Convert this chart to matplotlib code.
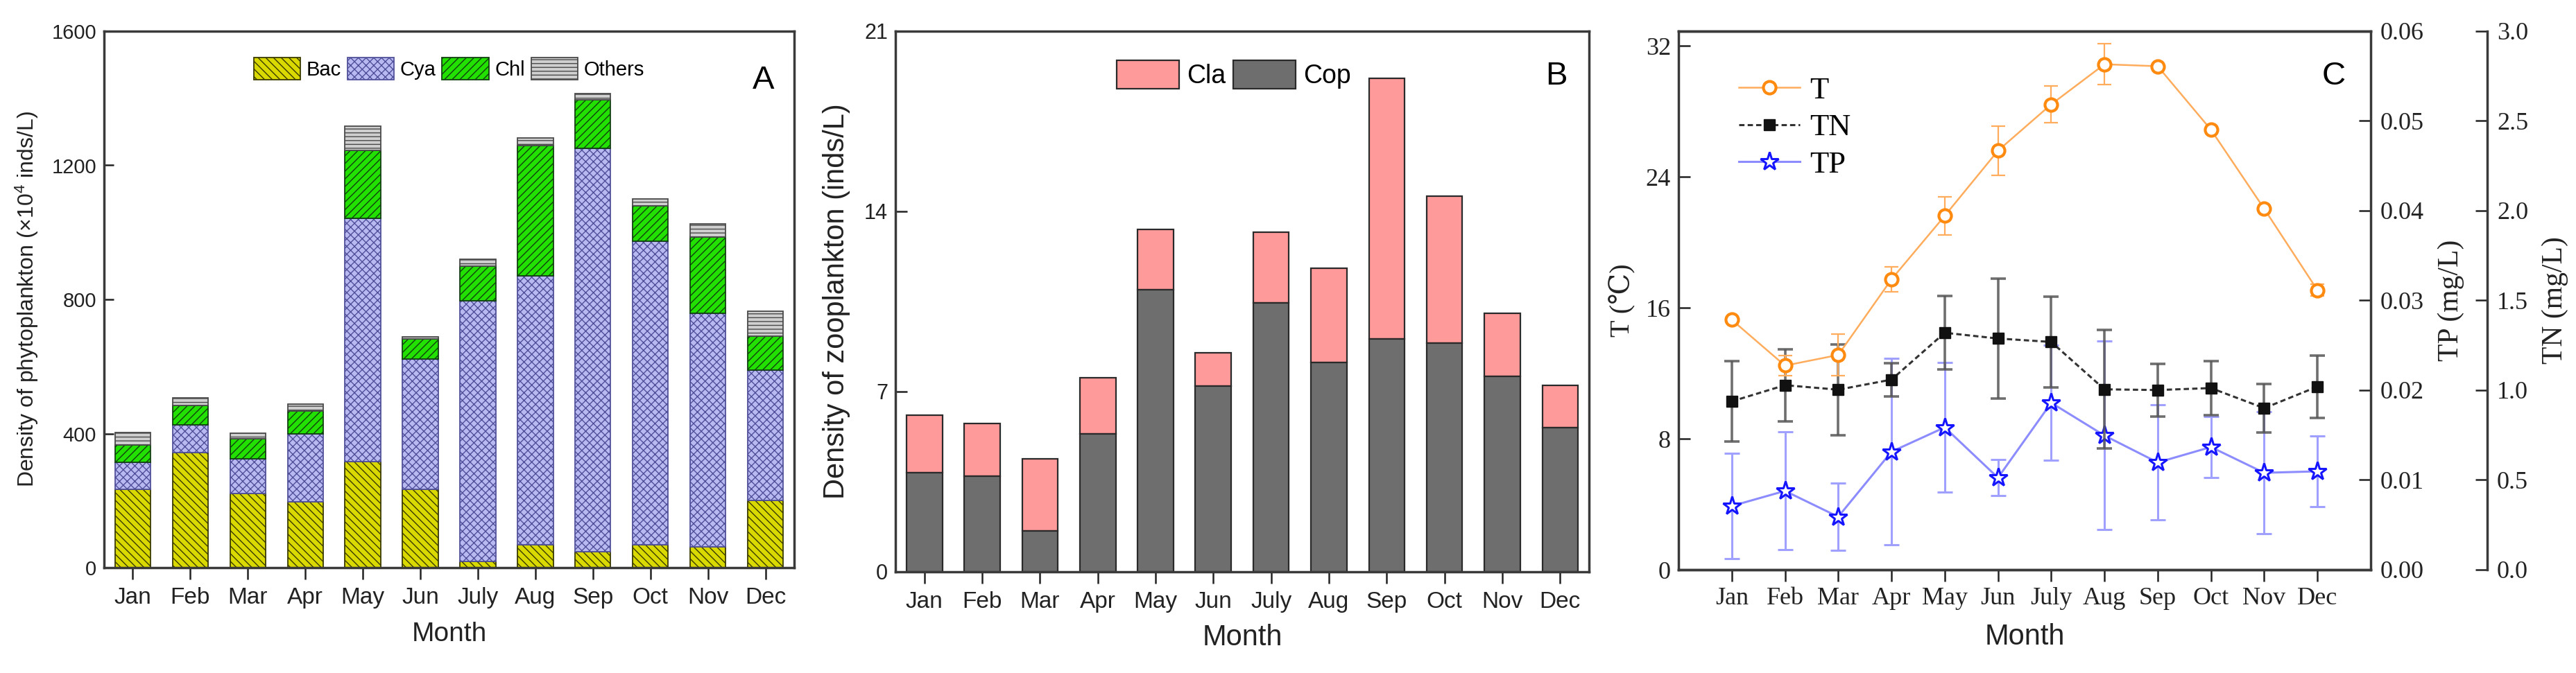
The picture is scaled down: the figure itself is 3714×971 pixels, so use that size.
import matplotlib
matplotlib.use('Agg')
import matplotlib.pyplot as plt
from matplotlib.lines import Line2D
from matplotlib.ticker import FormatStrFormatter, FixedLocator

# ---------------- data ----------------
months = ['Jan', 'Feb', 'Mar', 'Apr', 'May', 'Jun', 'July', 'Aug', 'Sep', 'Oct', 'Nov', 'Dec']

# Panel A: phytoplankton density (x10^4 inds/L), stacked components
bac = [234, 343, 221, 196, 317, 234, 19, 68, 47, 68, 63, 201]
cya = [80, 83, 103, 202, 724, 389, 776, 802, 1203, 906, 696, 388]
chl = [52, 58, 60, 69, 204, 59, 105, 388, 146, 105, 227, 102]
others = [37, 22, 17, 21, 71, 7, 20, 23, 18, 21, 39, 73]

# Panel B: zooplankton density (inds/L)
cop = [3.85, 3.72, 1.60, 5.35, 10.95, 7.22, 10.45, 8.12, 9.05, 8.88, 7.58, 5.60]
cla = [2.23, 2.03, 2.78, 2.20, 2.35, 1.30, 2.75, 3.68, 10.13, 5.70, 2.47, 1.65]

# Panel C: water temperature, TN, TP with error bars
temp = [15.27, 12.47, 13.12, 17.74, 21.62, 25.60, 28.43, 30.88, 30.76, 26.88, 22.05, 17.08]
temp_err = [0.15, 0.6, 1.27, 0.75, 1.17, 1.52, 1.13, 1.24, 0.1, 0.1, 0.1, 0.35]
tn = [0.938, 1.028, 1.003, 1.059, 1.32, 1.288, 1.269, 1.005, 1.001, 1.012, 0.90, 1.02]
tn_err = [0.223, 0.20, 0.253, 0.093, 0.204, 0.333, 0.254, 0.33, 0.147, 0.151, 0.134, 0.174]
tp = [0.0071, 0.00878, 0.0059, 0.01315, 0.01586, 0.01025, 0.0186, 0.01495, 0.01195, 0.01367, 0.0108, 0.01096]
tp_err = [0.0059, 0.00656, 0.00373, 0.0104, 0.0072, 0.0020, 0.0064, 0.0105, 0.0064, 0.00337, 0.0068, 0.00395]

a_yticks = [0, 400, 800, 1200, 1600]
b_yticks = [0, 7, 14, 21]
t_yticks = [0, 8, 16, 24, 32]
tp_yticks = [0.00, 0.01, 0.02, 0.03, 0.04, 0.05, 0.06]
tn_yticks = [0.0, 0.5, 1.0, 1.5, 2.0, 2.5, 3.0]

# ---------------- style ----------------
SANS = ['Liberation Sans Narrow', 'Liberation Sans', 'DejaVu Sans']
SERIF = ['Liberation Serif', 'DejaVu Serif', 'DejaVu Sans', 'Noto Sans CJK SC']
plt.rcParams['font.family'] = SANS
plt.rcParams['mathtext.fontset'] = 'custom'
plt.rcParams['mathtext.rm'] = 'Liberation Sans'
plt.rcParams['mathtext.it'] = 'Liberation Sans'
plt.rcParams['hatch.linewidth'] = 1.0
SPINE = '#3a3a3a'

W, H = 3714, 971
fig = plt.figure(figsize=(W / 100, H / 100), dpi=100)
fig.patch.set_facecolor('white')


def rect(l, r, t, b):
    return [l / W, 1 - b / H, (r - l) / W, (b - t) / H]


x = list(range(1, 13))

# ---------------- Panel A ----------------
axA = fig.add_axes(rect(150, 1145, 45, 819))
bw = 0.62
comps = [
    (bac, 'Bac', '#d9d900', '#3a3a00', '\\\\\\'),
    (cya, 'Cya', '#b9b9f2', '#50509a', 'xxx'),
    (chl, 'Chl', '#22e000', '#124012', '///'),
    (others, 'Others', '#cfcfcf', '#4a4a4a', '---'),
]
bottom = [0] * 12
for vals, lab, fc, hc, hatch in comps:
    axA.bar(x, vals, width=bw, bottom=bottom, color=fc, edgecolor=hc,
            hatch=hatch, linewidth=1.3, label=lab, zorder=2)
    bottom = [b + v for b, v in zip(bottom, vals)]
axA.set_xlim(0.5, 12.5)
axA.set_ylim(0, 1600)
axA.set_yticks(a_yticks)
axA.set_xticks(x)
axA.set_xticklabels(months)
axA.tick_params(axis='x', direction='out', length=12, width=1.8, labelsize=24, pad=8, colors='#222')
axA.tick_params(axis='y', direction='in', length=10, width=1.8, labelsize=21, pad=8, colors='#222')
for s in axA.spines.values():
    s.set_linewidth(2.5)
    s.set_color(SPINE)
axA.set_xlabel('Month', fontsize=28, labelpad=14, color='#222')
axA.set_ylabel('Density of phytoplankton (×10$^4$ inds/L)', fontsize=23, labelpad=12, color='#222')
legA = axA.legend(loc='center', bbox_to_anchor=(0.5, 0.93), ncol=4, frameon=False,
                  fontsize=21, handlelength=2.3, handleheight=1.3, handletextpad=0.3,
                  columnspacing=0.3)
axA.text(0.955, 0.908, 'A', transform=axA.transAxes, fontsize=34, ha='center', va='center',
         family=['Liberation Sans', 'DejaVu Sans'])

# ---------------- Panel B ----------------
axB = fig.add_axes(rect(1291, 2291, 45, 825))
axB.bar(x, cla, width=bw, bottom=cop, color='#ff9a9a', edgecolor='#2a2a2a', linewidth=1.6,
        label='Cla', zorder=2)
axB.bar(x, cop, width=bw, color='#6e6e6e', edgecolor='#2a2a2a', linewidth=1.6,
        label='Cop', zorder=2)
axB.set_xlim(0.5, 12.5)
axB.set_ylim(0, 21)
axB.set_yticks(b_yticks)
axB.set_xticks(x)
axB.set_xticklabels(months)
axB.tick_params(axis='x', direction='out', length=12, width=1.8, labelsize=24, pad=8, colors='#222')
axB.tick_params(axis='y', direction='in', length=12, width=1.8, labelsize=22, pad=8, colors='#222')
for s in axB.spines.values():
    s.set_linewidth(2.5)
    s.set_color(SPINE)
axB.set_xlabel('Month', fontsize=30, labelpad=12, color='#222')
axB.set_ylabel('Density of zooplankton (inds/L)', fontsize=30, labelpad=14, color='#222')
axB.legend(loc='center', bbox_to_anchor=(0.488, 0.92), ncol=2, frameon=False,
           fontsize=27, handlelength=2.4, handleheight=1.3, handletextpad=0.3, columnspacing=0.3)
axB.text(0.953, 0.917, 'B', transform=axB.transAxes, fontsize=34, ha='center', va='center',
         family=['Liberation Sans', 'DejaVu Sans'])

# ---------------- Panel C ----------------
axC = fig.add_axes(rect(2420, 3418, 45, 822))
axTP = axC.twinx()
axTN = axC.twinx()
axC.set_zorder(3)
axTN.set_zorder(2)
axTP.set_zorder(1)
axC.patch.set_visible(False)
axTN.patch.set_visible(False)

T_COL = '#ff8a10'
T_LINE = '#ffac5c'
TN_COL = '#111111'
TP_COL = '#1515ff'
TP_LINE = '#8c8cff'

axTP.errorbar(x, tp, yerr=tp_err, fmt='none', ecolor='#a0a0ff', elinewidth=2.2,
              capsize=8, capthick=2.2, zorder=1)
axTP.plot(x, tp, '-', color=TP_LINE, lw=2.2, marker='*', ms=20, mfc='white', mec=TP_COL,
          mew=2.2, zorder=3)

axTN.errorbar(x, tn, yerr=tn_err, fmt='none', ecolor='#555555', elinewidth=2.6,
              capsize=8, capthick=2.6, zorder=1, alpha=0.85)
axTN.plot(x, tn, color='#333333', lw=2.2, ls=(0, (2.5, 1.5)), marker='s', ms=11, mfc=TN_COL,
          mec=TN_COL, zorder=3)

axC.errorbar(x, temp, yerr=temp_err, fmt='none', ecolor=T_LINE, elinewidth=1.6,
             capsize=7, capthick=1.6, zorder=1)
axC.plot(x, temp, '-', color=T_LINE, lw=1.8, marker='o', ms=13, mfc='white', mec=T_COL,
         mew=3, zorder=3)

axC.set_xlim(0, 13)
axC.set_ylim(0, 32.9)
axC.set_yticks(t_yticks)
axC.set_xticks(x)
axC.set_xticklabels(months)
axTP.set_ylim(0, 0.06)
axTP.yaxis.set_major_locator(FixedLocator(tp_yticks))
axTP.yaxis.set_major_formatter(FormatStrFormatter('%.2f'))
axTN.set_ylim(0, 3.0)
axTN.yaxis.set_major_locator(FixedLocator(tn_yticks))
axTN.yaxis.set_major_formatter(FormatStrFormatter('%.1f'))
axTN.spines['right'].set_position(('axes', 1 + 168 / 998))
for k in ('left', 'top', 'bottom'):
    axTN.spines[k].set_visible(False)
axTP.spines['left'].set_visible(False)
axC.spines['right'].set_visible(False)
for a in (axC, axTP, axTN):
    for s in a.spines.values():
        s.set_linewidth(2.5)
        s.set_color(SPINE)

axC.tick_params(axis='x', direction='out', length=12, width=1.8, pad=6, colors='#222')
axC.tick_params(axis='y', direction='in', length=12, width=1.8, pad=8, colors='#222')
axTP.tick_params(axis='y', direction='in', length=12, width=1.8, pad=10, colors='#222')
axTN.tick_params(axis='y', direction='in', length=12, width=1.8, pad=10, colors='#222')
for a in (axC, axTP, axTN):
    for lab in a.get_xticklabels() + a.get_yticklabels():
        lab.set_family(SERIF)
        lab.set_fontsize(26)

axC.set_xlabel('Month', fontsize=30, labelpad=14, color='#222')
axC.set_ylabel('T (℃)', fontsize=29, labelpad=10, color='#222', family=SERIF)
axTP.set_ylabel('TP (mg/L)', fontsize=30, labelpad=14, color='#222', family=SERIF)
axTN.set_ylabel('TN (mg/L)', fontsize=30, labelpad=14, color='#222', family=SERIF)

handles = [
    Line2D([], [], color=T_LINE, lw=1.8, marker='o', ms=13, mfc='white', mec=T_COL, mew=3),
    Line2D([], [], color='#333333', lw=2.2, ls=(0, (2.5, 1.5)), marker='s', ms=11, mfc=TN_COL, mec=TN_COL),
    Line2D([], [], color=TP_LINE, lw=2.2, marker='*', ms=20, mfc='white', mec=TP_COL, mew=2.2),
]
axC.legend(handles, ['T', 'TN', 'TP'], loc='upper left', bbox_to_anchor=(0.06, 0.95),
           frameon=False, prop=dict(family=SERIF, size=32), handlelength=2.0,
           handletextpad=0.3, labelspacing=0.3, borderaxespad=0.2)
axC.text(0.947, 0.916, 'C', transform=axC.transAxes, fontsize=34, ha='center', va='center',
         family=['Liberation Sans', 'DejaVu Sans'])

fig.savefig('out.png', dpi=100, facecolor='white')
